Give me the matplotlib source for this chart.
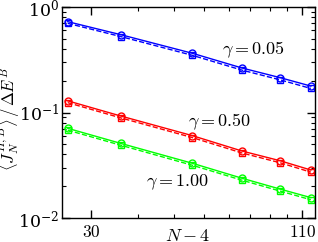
import matplotlib
matplotlib.use("Agg")
import matplotlib.pyplot as plt
from matplotlib.ticker import FixedLocator, NullFormatter, LogLocator

plt.rcParams['mathtext.fontset'] = 'cm'
plt.rcParams['font.family'] = 'serif'
plt.rcParams['font.serif'] = ['DejaVu Serif']

x = [26, 36, 56, 76, 96, 116]

blue_solid = [0.726, 0.547, 0.364, 0.264, 0.214, 0.178]
blue_dash = [0.700, 0.525, 0.348, 0.252, 0.204, 0.169]
red_solid = [0.129, 0.0927, 0.0603, 0.0431, 0.0349, 0.0285]
red_dash = [0.124, 0.0890, 0.0578, 0.0413, 0.0334, 0.0272]
green_solid = [0.0708, 0.0510, 0.0330, 0.0238, 0.0188, 0.0156]
green_dash = [0.0680, 0.0490, 0.0316, 0.0228, 0.0180, 0.0149]

labels = [r'$\gamma = 0.05$', r'$\gamma = 0.50$', r'$\gamma = 1.00$']
xticks_major = [30, 110]
xticks_minor = [40, 50, 60, 70, 80, 90, 100]

fig = plt.figure(figsize=(3.18, 2.42), dpi=100)
ax = fig.add_axes([62/318, 1 - 218/242, (315-62)/318, (218-7)/242])

series = [
    (blue_solid, blue_dash, '#0000ff'),
    (red_solid, red_dash, '#ff0000'),
    (green_solid, green_dash, '#00ff00'),
]
for s, d, c in series:
    ax.plot(x, s, '-', color=c, lw=1.0, marker='o', ms=5, mfc='none', mec=c, mew=1.0)
    ax.plot(x, d, '--', color=c, lw=1.0, marker='s', ms=4.5, mfc='none', mec=c, mew=1.0)

ax.set_xscale('log')
ax.set_yscale('log')
ax.set_xlim(25.1, 119)
ax.set_ylim(1e-2, 1e0)
ax.xaxis.set_major_locator(FixedLocator(xticks_major))
ax.xaxis.set_minor_locator(FixedLocator(xticks_minor))
ax.xaxis.set_minor_formatter(NullFormatter())
ax.set_xticklabels([r'$%d$' % v for v in xticks_major])
ax.yaxis.set_major_locator(LogLocator(base=10, numticks=10))
ax.yaxis.set_minor_locator(LogLocator(base=10, subs=range(2, 10), numticks=10))
ax.yaxis.set_minor_formatter(NullFormatter())

ax.tick_params(which='both', direction='in', top=True, right=True, labelsize=12.5)
ax.tick_params(which='major', length=6, width=1)
ax.tick_params(which='minor', length=3, width=0.8)
ax.tick_params(axis='y', which='major', pad=2)
ax.tick_params(axis='x', which='major', pad=4)
for sp in ax.spines.values():
    sp.set_linewidth(1.0)

ax.set_xlabel(r'$N-4$', fontsize=13)
ax.xaxis.set_label_coords(0.498, -0.042)
ax.set_ylabel(r'$\langle J_N^{H,B}\rangle\,/\,\Delta E^B$', fontsize=12)
ax.yaxis.set_label_coords(-0.157, 0.47)

ax.text(0.757, 0.796, labels[0], transform=ax.transAxes, fontsize=13, ha='center', va='center')
ax.text(0.624, 0.455, labels[1], transform=ax.transAxes, fontsize=13, ha='center', va='center')
ax.text(0.458, 0.17, labels[2], transform=ax.transAxes, fontsize=13, ha='center', va='center')

fig.savefig('out.png', dpi=100)
